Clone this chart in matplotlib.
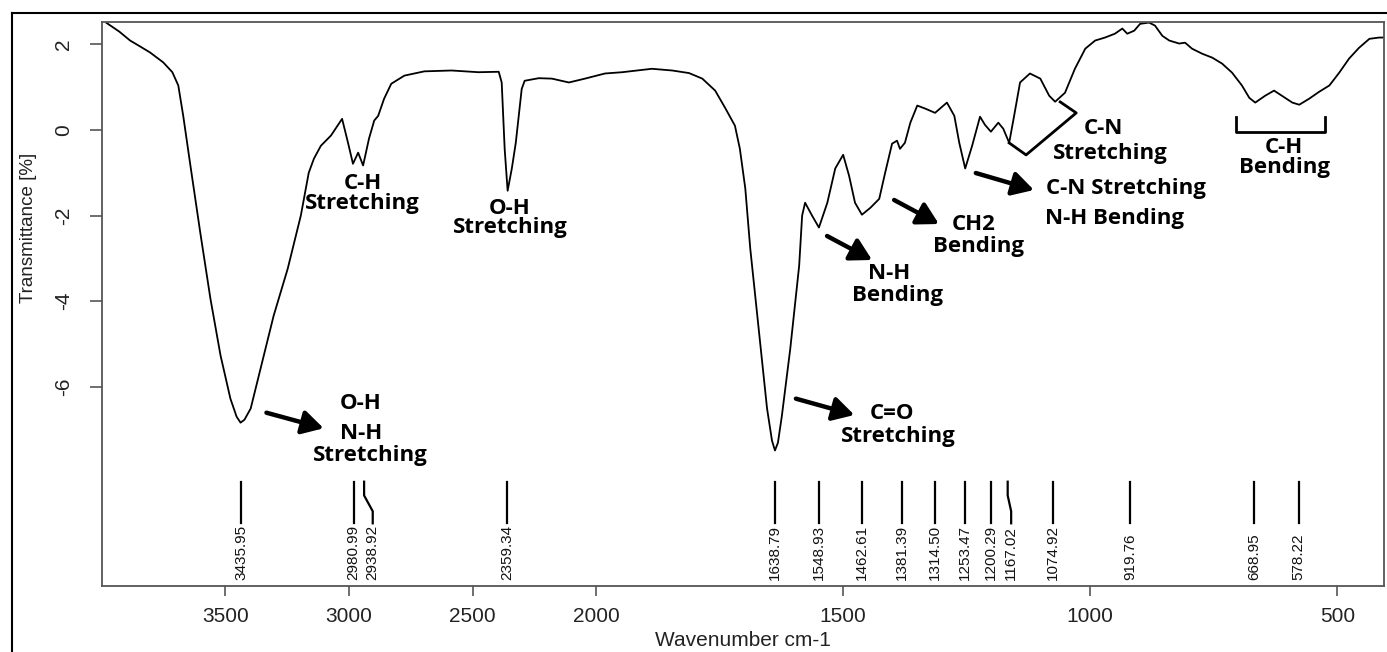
import numpy as np
import matplotlib
matplotlib.use("Agg")
import matplotlib.pyplot as plt
import matplotlib.transforms as mtransforms
from matplotlib.lines import Line2D

# ---------------- data ----------------
wavenumber = [3981, 3930, 3886, 3845, 3805, 3752, 3715, 3691, 3671, 3642, 3602, 3561, 3520,
              3480, 3455, 3439, 3423, 3398, 3358, 3305, 3248, 3195, 3163, 3142, 3114, 3073,
              3028, 3004, 2984, 2963, 2943, 2919, 2898, 2882, 2858, 2829, 2776, 2695, 2585,
              2476, 2394, 2382, 2370, 2358, 2341, 2325, 2301, 2289, 2232, 2179, 2110,
              2045, 1982, 1947, 1887, 1846, 1812, 1785, 1759, 1739, 1719, 1709, 1698,
              1688, 1670, 1654, 1644, 1638, 1632, 1624, 1607, 1589, 1583, 1577, 1563,
              1549, 1532, 1516, 1500, 1488, 1476, 1462, 1445, 1427, 1415, 1401, 1391,
              1385, 1375, 1364, 1350, 1334, 1314, 1290, 1275, 1265, 1253, 1239, 1223,
              1213, 1201, 1186, 1176, 1164, 1154, 1142, 1122, 1101, 1083, 1071, 1051,
              1031, 1010, 990, 970, 950, 935, 925, 911, 899, 881, 869, 854, 840, 820,
              808, 794, 773, 753, 733, 713, 693, 678, 666, 646, 628, 612, 591, 577,
              557, 537, 516, 496, 476, 456, 435, 415, 405]
transmittance = [2.50, 2.30, 2.09, 1.95, 1.81, 1.58, 1.35, 1.04, 0.33, -0.83, -2.40, -3.94, -5.27,
                 -6.28, -6.70, -6.84, -6.77, -6.51, -5.58, -4.34, -3.24, -2.00, -1.00, -0.67,
                 -0.37, -0.13, 0.26, -0.30, -0.79, -0.53, -0.83, -0.20, 0.22, 0.33, 0.73, 1.08,
                 1.27, 1.37, 1.39,
                 1.35, 1.36, 1.11, -0.44, -1.42, -0.90, -0.30, 0.96, 1.15, 1.21, 1.20, 1.11,
                 1.20, 1.32, 1.35, 1.43, 1.39, 1.33, 1.20, 0.92, 0.52, 0.10, -0.44, -1.37,
                 -2.77, -4.74, -6.51, -7.26, -7.49, -7.31, -6.68, -5.11, -3.17, -2.00, -1.70, -2.00,
                 -2.28, -1.70, -0.90, -0.58, -1.07, -1.70, -1.98, -1.82, -1.61, -1.00, -0.32, -0.25,
                 -0.44, -0.30, 0.17, 0.57, 0.50, 0.40, 0.64, 0.33, -0.30, -0.90, -0.37, 0.31,
                 0.12, -0.04, 0.17, 0.03, -0.30, 0.33, 1.11, 1.32, 1.20, 0.80, 0.66, 0.87,
                 1.43, 1.90, 2.09, 2.16, 2.25, 2.37, 2.25, 2.32, 2.48, 2.51, 2.44, 2.20, 2.09, 2.02,
                 2.04, 1.90, 1.78, 1.69, 1.55, 1.34, 1.04, 0.75, 0.64, 0.80, 0.92, 0.80, 0.64, 0.59,
                 0.73, 0.89, 1.04, 1.34, 1.67, 1.92, 2.13, 2.16, 2.16]

peak_positions = [3435.95, 2980.99, 2938.92, 2359.34, 1638.79, 1548.93, 1462.61, 1381.39,
                  1314.50, 1253.47, 1200.29, 1167.02, 1074.92, 919.76, 668.95, 578.22]
peak_labels = ["3435.95", "2980.99", "2938.92", "2359.34", "1638.79", "1548.93", "1462.61",
               "1381.39", "1314.50", "1253.47", "1200.29", "1167.02", "1074.92", "919.76",
               "668.95", "578.22"]

x_ticks = [3500, 3000, 2500, 2000, 1500, 1000, 500]
y_ticks = [2, 0, -2, -4, -6]

# ---------------- layout ----------------
label_shift = {"2938.92": 2904, "1167.02": 1160}   # label positions moved to avoid overlap

fig = plt.figure(figsize=(13.87, 6.52), dpi=100)
ax = fig.add_axes([0.0735, 0.1017, 0.9245, 0.865])

def fwd(x):
    x = np.asarray(x, dtype=float)
    return np.where(x > 2000, 2000 + (x - 2000) / 2.0, x)

def inv(y):
    y = np.asarray(y, dtype=float)
    return np.where(y > 2000, 2000 + (y - 2000) * 2.0, y)

ax.set_xscale("function", functions=(fwd, inv))
ax.plot(wavenumber, transmittance, color="black", lw=1.3, solid_joinstyle="round")
ax.set_xlim(4000, 405)
ax.set_ylim(-10.65, 2.53)

ax.set_xticks(x_ticks)
ax.set_xticklabels([str(t) for t in x_ticks])
ax.set_yticks(y_ticks)
ax.set_yticklabels([str(t) for t in y_ticks], rotation=90, va="center")

for lab in ax.get_xticklabels() + ax.get_yticklabels():
    lab.set_fontfamily("Liberation Sans")
    lab.set_fontsize(15)
    lab.set_color("#222222")
ax.tick_params(axis="x", direction="out", length=7, width=1.2, color="#555555", pad=8)
ax.tick_params(axis="y", direction="out", length=9, width=1.2, color="#555555", pad=12)
for sp in ax.spines.values():
    sp.set_color("#555555")
    sp.set_linewidth(1.3)

ax.set_xlabel("Wavenumber cm-1", fontsize=15, family="Liberation Sans", color="#222222")
ax.xaxis.set_label_coords(0.5, -0.081)
ax.set_ylabel("Transmittance [%]", fontsize=13.5, family="Liberation Sans", color="#222222")
ax.yaxis.set_label_coords(-0.051, 0.634)

# peak label lines and numbers
blend = mtransforms.blended_transform_factory(ax.transData, ax.transAxes)
for pos, lab in zip(peak_positions, peak_labels):
    lx = label_shift.get(lab, pos)
    if lx != pos:
        ax.plot([pos, pos, lx, lx], [0.1844, 0.160, 0.132, 0.1106], transform=blend,
                color="black", lw=1.6, clip_on=False)
    else:
        ax.plot([pos, pos], [0.1844, 0.1106], transform=blend, color="black", lw=1.6,
                clip_on=False)
    ax.text(lx, 0.0101, lab, transform=blend, rotation=90, ha="center", va="bottom",
            fontsize=11, family="Liberation Sans", color="#111111")

# annotations (axes-fraction layout)
ann_font = dict(family="Open Sans", weight="bold", size=16, color="black")

def label(x, y, s, ha="center"):
    ax.text(x, y, s, transform=ax.transAxes, ha=ha, va="center", ma="center",
            linespacing=0.92, **ann_font)

def arrow(x0, y0, x1, y1):
    ax.annotate("", xy=(x1, y1), xytext=(x0, y0), xycoords="axes fraction",
                textcoords="axes fraction",
                arrowprops=dict(arrowstyle="-|>,head_length=0.8,head_width=0.45",
                                lw=3.2, color="black", mutation_scale=16,
                                shrinkA=0, shrinkB=0))

label(0.2032, 0.6954, "C-H\nStretching")
label(0.3183, 0.652, "O-H\nStretching")

label(0.202, 0.3222, "O-H")
label(0.202, 0.2707, "N-H")
label(0.2094, 0.230, "Stretching")
arrow(0.1283, 0.3067, 0.1729, 0.2791)

label(0.6161, 0.3062, "C=O")
label(0.6209, 0.2654, "Stretching")
arrow(0.5412, 0.3316, 0.5868, 0.3027)

label(0.6136, 0.5544, "N-H")
label(0.6206, 0.5154, "Bending")
arrow(0.5655, 0.620, 0.6006, 0.5775)

label(0.6802, 0.6413, "CH2")
label(0.6833, 0.601, "Bending")
arrow(0.6178, 0.6839, 0.6527, 0.6413)

label(0.7808, 0.8115, "C-N")
label(0.7867, 0.7672, "Stretching")
ax.add_line(Line2D([0.7075, 0.7207, 0.7598, 0.7473], [0.7851, 0.7638, 0.8383, 0.8578],
                   transform=ax.transAxes, color="black", lw=2.0))

label(0.7363, 0.7034, "C-N Stretching", ha="left")
label(0.7356, 0.6502, "N-H Bending", ha="left")
arrow(0.6815, 0.7317, 0.7268, 0.7016)

label(0.922, 0.7592, "C-H\nBending")
ax.add_line(Line2D([0.8846, 0.8846, 0.9540, 0.9540], [0.8310, 0.8044, 0.8044, 0.8310],
                   transform=ax.transAxes, color="black", lw=2.0))

# outer frame of the picture
fig.add_artist(Line2D([0.0084, 0.0084], [0.0, 0.9808], transform=fig.transFigure,
                      color="black", lw=1.5))
fig.add_artist(Line2D([0.0084, 1.0], [0.9808, 0.9808], transform=fig.transFigure,
                      color="black", lw=1.5))

fig.savefig("out.png", dpi=100)
